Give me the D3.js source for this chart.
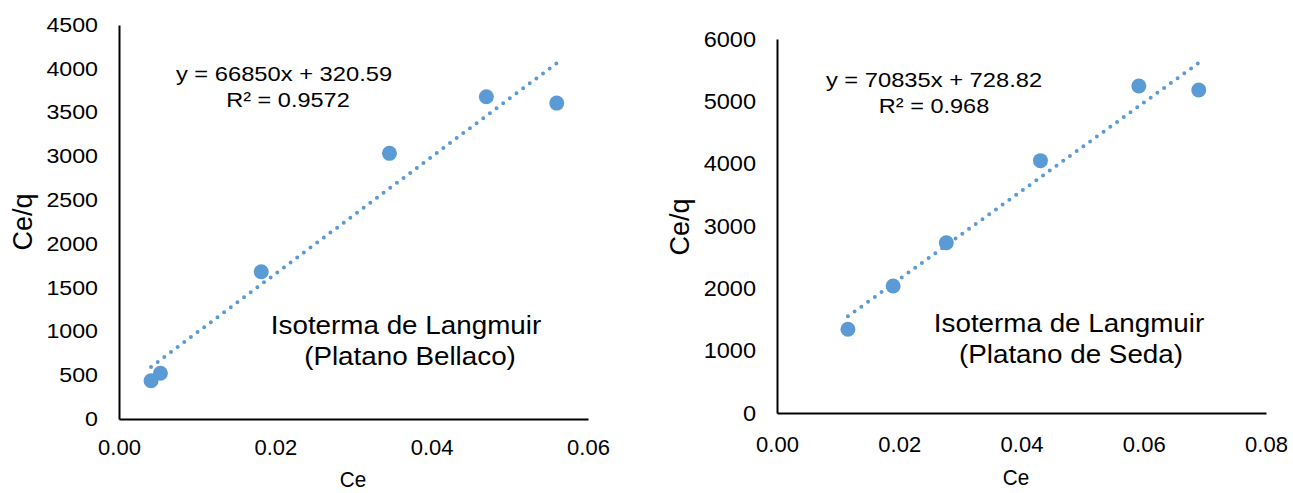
<!DOCTYPE html>
<html>
<head>
<meta charset="utf-8">
<script src="https://cdn.jsdelivr.net/npm/d3@7"></script>
<style>
  body { margin: 0; background: #fff; }
  svg { display: block; font-family: "Liberation Sans", Arial, sans-serif; }
</style>
</head>
<body>
<svg id="chart" width="1293" height="493"></svg>
<script>
// data
const bellacoCe = [0.0041, 0.0053, 0.0182, 0.0346, 0.0470, 0.0560];
const bellacoCeq = [437, 522, 1682, 3034, 3681, 3608];
const bellacoFit = [66850, 320.59];   // slope, intercept
const bellacoR2 = "0.9572";

const sedaCe = [0.0116, 0.0190, 0.0277, 0.0431, 0.0592, 0.0690];
const sedaCeq = [1343, 2037, 2732, 4048, 5246, 5182];
const sedaFit = [70835, 728.82];
const sedaR2 = "0.968";

const bellacoXTicks = [0, 0.02, 0.04, 0.06];
const bellacoYTicks = d3.range(0, 4501, 500);
const sedaXTicks = [0, 0.02, 0.04, 0.06, 0.08];
const sedaYTicks = d3.range(0, 6001, 1000);

const blue = "#5B9BD5";
const svg = d3.select("#chart");

function drawPanel(opt) {
    const x = d3.scaleLinear().domain(opt.xDomain).range(opt.xRange);
    const y = d3.scaleLinear().domain(opt.yDomain).range(opt.yRange);
    const g = svg.append("g");

    // axes
    const gx = g.append("g")
        .attr("transform", `translate(0,${opt.yRange[0]})`)
        .call(d3.axisBottom(x).tickValues(opt.xTicks).tickFormat(d3.format(".2f"))
            .tickSize(0).tickSizeOuter(0).tickPadding(opt.xPad));
    gx.selectAll("text").attr("font-size", 22).attr("font-family", null).attr("fill", "#000");

    const gy = g.append("g")
        .attr("transform", `translate(${opt.xRange[0]},0)`)
        .call(d3.axisLeft(y).tickValues(opt.yTicks).tickFormat(d3.format("d"))
            .tickSize(0).tickSizeOuter(0));
    gy.selectAll("text")
        .attr("font-size", opt.yFont).attr("font-family", null).attr("fill", "#000")
        .attr("x", -21 / opt.ySx)
        .attr("transform", `scale(${opt.ySx},1)`);

    g.selectAll(".domain").attr("stroke", "#000").attr("stroke-width", 2);

    // trendline, dotted
    const [m, b] = opt.fit;
    const xs = d3.extent(opt.ce);
    g.append("path")
        .datum(xs)
        .attr("fill", "none")
        .attr("stroke", blue)
        .attr("stroke-width", 4)
        .attr("stroke-linecap", "round")
        .attr("stroke-dasharray", "0 8.3")
        .attr("d", d3.line().x(d => x(d)).y(d => y(m * d + b)));

    // points
    g.selectAll("circle")
        .data(opt.ce.map((c, i) => [c, opt.ceq[i]]))
        .join("circle")
        .attr("cx", d => x(d[0]))
        .attr("cy", d => y(d[1]))
        .attr("r", 7.5)
        .attr("fill", blue);

    // text helpers
    const label = (txt, cx, by, size, sx) => g.append("text")
        .attr("transform", `translate(${cx},${by}) scale(${sx},1)`)
        .attr("text-anchor", "middle")
        .attr("font-size", size)
        .attr("fill", "#000")
        .text(txt);

    label(`y = ${m}x + ${b}`, opt.eqX, opt.eqY, 21, 1.13);
    label(`R² = ${opt.r2}`, opt.r2X, opt.eqY + 26, 21, 1.12);
    label("Isoterma de Langmuir", opt.titleX, opt.titleY, 26, 1.07);
    label(opt.sub, opt.subX, opt.titleY + 31, 26, 1.07);
    label("Ce", opt.ceX, opt.ceY, 22, 0.94);

    g.append("text")
        .attr("transform", `translate(${opt.ceqX},${opt.ceqY}) rotate(-90)`)
        .attr("text-anchor", "middle")
        .attr("font-size", 27)
        .attr("fill", "#000")
        .text("Ce/q");
}

drawPanel({
    ce: bellacoCe, ceq: bellacoCeq, fit: bellacoFit, r2: bellacoR2,
    xDomain: [0, 0.06], yDomain: [0, 4500],
    xRange: [119, 588], yRange: [419, 25],
    xTicks: bellacoXTicks, yTicks: bellacoYTicks,
    xPad: 20, yFont: 20, ySx: 1.16,
    eqX: 284, eqY: 81, r2X: 288,
    titleX: 406, titleY: 334, sub: "(Platano Bellaco)", subX: 410,
    ceX: 353, ceY: 487, ceqX: 32, ceqY: 222
});

drawPanel({
    ce: sedaCe, ceq: sedaCeq, fit: sedaFit, r2: sedaR2,
    xDomain: [0, 0.08], yDomain: [0, 6000],
    xRange: [777, 1266], yRange: [413, 39],
    xTicks: sedaXTicks, yTicks: sedaYTicks,
    xPad: 23, yFont: 22, ySx: 1.07,
    eqX: 934, eqY: 87, r2X: 934,
    titleX: 1069, titleY: 332, sub: "(Platano de Seda)", subX: 1071,
    ceX: 1016, ceY: 485, ceqX: 689, ceqY: 227
});
</script>
</body>
</html>
